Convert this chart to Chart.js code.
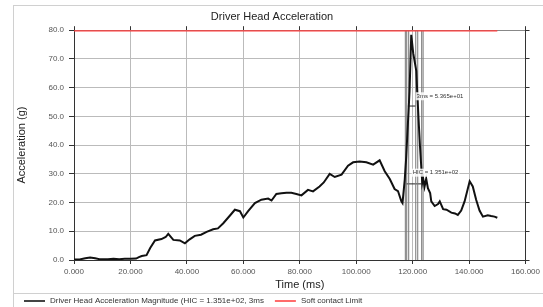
<!DOCTYPE html>
<html>
<head>
<meta charset="utf-8">
<script src="https://cdn.jsdelivr.net/npm/chart.js@4/dist/chart.umd.min.js"></script>
<style>
  html, body { margin: 0; padding: 0; background: #fff; }
  #wrap { width: 543px; height: 307px; }
</style>
</head>
<body>
<div id="wrap"><canvas id="chart"></canvas></div>
<script>
// time (ms) and head acceleration (g)
const timeMs = [0, 2, 4, 5.7, 7.5, 9, 12, 14, 16, 18, 20, 22, 23, 24, 25.7, 27, 28.7, 31, 32.5, 33.4,
  35.2, 37.5, 39.3, 41, 42.8, 45, 47, 49.3, 51, 52.9, 55.2, 57, 58.8, 60, 61.7, 64.1, 66.4, 68.8, 70,
  71.7, 73.5, 75.3, 77, 78.8, 80.6, 82.9, 84.7, 87, 88.5, 90.6, 92.4, 94.8, 97.1, 98.9, 101.2, 103.6,
  106, 108.3, 110.1, 111.9, 113.6, 114.8, 116, 116.4, 117.2, 117.7, 118.9, 119.5, 120.2, 121.3, 121.6,
  122.2, 122.6, 123, 123.4, 123.7, 124.2, 124.8, 125.4, 126.2, 126.6, 127.8, 129, 129.6, 130.8, 132,
  133.7, 135, 136, 137.2, 138.4, 140.2, 141.3, 142.5, 143.7, 144.9, 146.6, 147.8, 149, 150];
const accelG = [0.2, 0.2, 0.6, 0.9, 0.6, 0.3, 0.3, 0.4, 0.3, 0.4, 0.4, 0.5, 1.0, 1.4, 1.7, 4.2, 6.8, 7.3, 8.0, 9.1,
  7.0, 6.8, 5.8, 7.2, 8.4, 8.8, 9.8, 10.7, 11.0, 12.8, 15.4, 17.5, 17.0, 14.8, 17.0, 19.8, 21.0, 21.4, 20.7,
  23.0, 23.2, 23.4, 23.4, 23.0, 22.5, 24.4, 23.9, 25.6, 27.0, 30.0, 28.9, 29.7, 32.8, 34.0, 34.3, 34.0,
  33.2, 34.7, 30.9, 28.2, 24.7, 24.0, 20.4, 19.8, 28.0, 35.6, 58.8, 78.4, 72.0, 65.8, 58.8,
  47.0, 39.6, 33.2, 27.0, 28.5, 25.5, 28.3, 25.0, 23.3, 20.4, 18.8, 19.5, 20.4, 17.7, 17.5,
  16.5, 16.2, 15.7, 17.2, 20.4, 27.4, 25.6, 21.0, 17.2, 15.1, 15.6, 15.3, 15.1, 14.7];

const limitTime = [0, 150];
const limitG = [80, 80];

// HIC window markers
const windowLines = [117.4, 117.9, 118.6, 121.1, 121.8, 123.2, 123.7];
const threeMsBar = { from: 118.3, to: 121.1, level: 53.6, text: '3ms = 5.365e+01', tx: 121.4, ty: 57 };
const hicBar = { from: 117.7, to: 123.7, level: 26.5, text: 'HIC = 1.351e+02', tx: 120.0, ty: 30.4 };

const xTicks = [0, 20, 40, 60, 80, 100, 120, 140, 160];
const yTicks = [0, 10, 20, 30, 40, 50, 60, 70, 80];

const FONT = "'Liberation Sans', Arial, sans-serif";

const series = timeMs.map((t, i) => ({ x: t, y: accelG[i] }));
const limit = limitTime.map((t, i) => ({ x: t, y: limitG[i] }));

const markerSets = windowLines.map(t => ({
  data: [{ x: t, y: 0 }, { x: t, y: 80 }],
  borderColor: '#777', borderWidth: 1, pointRadius: 0, marker: true
}));
[threeMsBar, hicBar].forEach(b => {
  markerSets.push({
    data: [{ x: b.from, y: b.level }, { x: b.to, y: b.level }],
    borderColor: '#222', borderWidth: 1, pointRadius: 0, marker: true
  });
});

const frame = {
  id: 'frame',
  beforeDraw(chart) {
    const c = chart.ctx;
    c.save();
    c.fillStyle = '#fff';
    c.fillRect(0, 0, chart.width, chart.height);
    c.strokeStyle = '#d0d0d0';
    c.lineWidth = 1;
    c.strokeRect(13.5, 5.5, chart.width - 13, chart.height - 5);
    c.beginPath();
    c.moveTo(13, 293.5);
    c.lineTo(chart.width, 293.5);
    c.stroke();
    c.restore();
  },
  // simple line-sample legend along the bottom strip
  afterDraw(chart) {
    const c = chart.ctx;
    c.save();
    c.font = '8px ' + FONT;
    c.textBaseline = 'middle';
    let x = 24;
    const y = 301;
    chart.data.datasets.filter(d => d.label).forEach(d => {
      c.fillStyle = d.backgroundColor;
      c.fillRect(x, y - 1, 21, 2);
      x += 26;
      c.fillStyle = '#333';
      c.fillText(d.label, x, y);
      x += c.measureText(d.label).width + 11;
    });
    c.restore();
  }
};

const labels = {
  id: 'hicLabels',
  afterDatasetsDraw(chart) {
    const c = chart.ctx, xs = chart.scales.x, ys = chart.scales.y;
    c.save();
    c.font = '6px ' + FONT;
    c.textBaseline = 'middle';
    [threeMsBar, hicBar].forEach(b => {
      const x = xs.getPixelForValue(b.tx), y = ys.getPixelForValue(b.ty);
      const w = c.measureText(b.text).width;
      c.fillStyle = 'rgba(255,255,255,0.85)';
      c.fillRect(x - 1, y - 4, w + 2, 8);
      c.fillStyle = '#333';
      c.fillText(b.text, x, y);
    });
    c.restore();
  }
};

new Chart(document.getElementById('chart'), {
  type: 'line',
  data: {
    datasets: [
      {
        label: 'Driver Head Acceleration Magnitude (HIC = 1.351e+02, 3ms',
        data: series, borderColor: '#111', backgroundColor: '#444',
        borderWidth: 2, pointRadius: 0, tension: 0
      },
      {
        label: 'Soft contact Limit',
        data: limit, borderColor: '#ff3b3b', backgroundColor: '#ff6b6b',
        borderWidth: 2.5, pointRadius: 0
      },
      ...markerSets
    ]
  },
  plugins: [frame, labels],
  options: {
    responsive: true,
    maintainAspectRatio: false,
    animation: false,
    layout: { padding: { left: 14, right: 13, top: 4, bottom: 14 } },
    plugins: {
      title: {
        display: true, text: 'Driver Head Acceleration', color: '#222',
        font: { family: FONT, size: 11, weight: 'normal' },
        padding: { top: 6, bottom: 3 }
      },
      legend: { display: false },
      tooltip: { enabled: false }
    },
    scales: {
      x: {
        type: 'linear', min: 0, max: 160,
        afterBuildTicks: s => { s.ticks = xTicks.map(v => ({ value: v })); },
        afterFit: s => { s.height = 33; },
        ticks: { color: '#555', font: { family: FONT, size: 8 }, padding: 3, maxRotation: 0,
          callback: v => v.toFixed(3) },
        grid: { color: '#bbb', borderDash: [3, 3], tickLength: 4, tickColor: '#333', tickBorderDash: [] },
        border: { color: '#333', width: 1 },
        title: { display: true, text: 'Time (ms)', color: '#222',
          font: { family: FONT, size: 11 }, padding: { top: 2, bottom: 1 } }
      },
      x2: {
        type: 'linear', position: 'top', min: 0, max: 160,
        afterBuildTicks: s => { s.ticks = xTicks.map(v => ({ value: v })); },
        afterFit: s => { s.height = 4; },
        ticks: { display: false },
        grid: { drawOnChartArea: false, tickLength: 4, tickColor: '#333' },
        border: { color: '#888', width: 1 }
      },
      y: {
        min: 0, max: 80,
        afterBuildTicks: s => { s.ticks = yTicks.map(v => ({ value: v })); },
        afterFit: s => { s.width = 60; },
        ticks: { color: '#555', font: { family: FONT, size: 8 }, padding: 5,
          callback: v => v.toFixed(1) },
        grid: { color: '#bbb', borderDash: [3, 3], tickLength: 5, tickColor: '#333', tickBorderDash: [] },
        border: { color: '#333', width: 1 },
        title: { display: true, text: 'Acceleration (g)', color: '#222',
          font: { family: FONT, size: 11 }, padding: { top: 1, bottom: 0 } }
      },
      y2: {
        position: 'right', min: 0, max: 80,
        afterBuildTicks: s => { s.ticks = yTicks.map(v => ({ value: v })); },
        afterFit: s => { s.width = 4; },
        ticks: { display: false },
        grid: { drawOnChartArea: false, tickLength: 4, tickColor: '#333' },
        border: { color: '#333', width: 1 }
      }
    }
  }
});
</script>
</body>
</html>
